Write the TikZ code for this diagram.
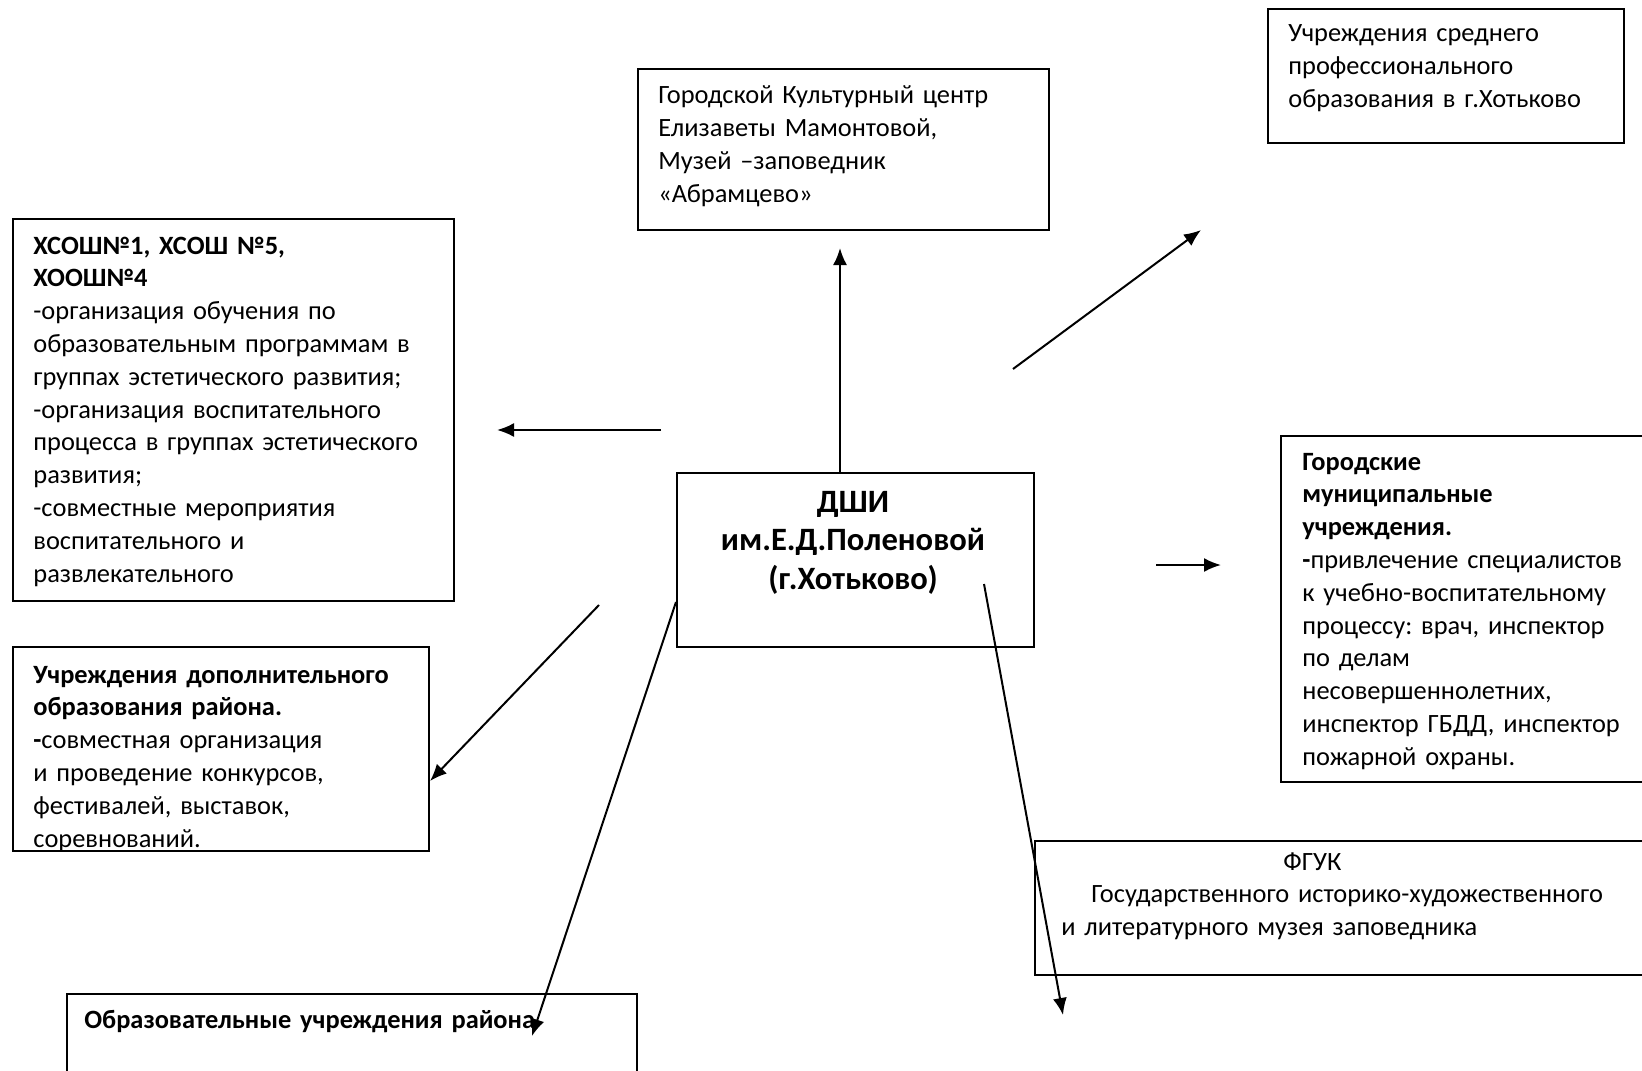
\documentclass[tikz,border=0pt]{standalone}
\usepackage{fontspec}
\setmainfont{Carlito}
\usetikzlibrary{arrows.meta}
\frenchspacing
\begin{document}
\begin{tikzpicture}[x=0.5pt,y=-0.5pt,
  box/.style={draw, line width=1pt, anchor=north west, inner sep=0pt},
  txt/.style={anchor=base west, inner sep=0pt, align=left, text width=330pt,
    font=\fontsize{13.2}{16.4}\selectfont\frenchspacing},
  ctrtxt/.style={anchor=base, inner sep=0pt, align=center, text width=175pt,
    font=\fontsize{16.3}{19.4}\selectfont\bfseries},
  arr/.style={line width=1pt, -{Latex[length=8.5pt,width=7pt]}}]
\clip (0,0) rectangle (1642,1070);
\fill[white] (0,0) rectangle (1642,1070);

% boxes
\node[box, minimum width=220.5pt, minimum height=191pt] (b1) at (12,218) {};
\node[box, minimum width=208pt, minimum height=102pt] (b2) at (12,646) {};
\node[box, minimum width=205.5pt, minimum height=80.5pt] (b3) at (637,68) {};
\node[box, minimum width=178pt, minimum height=67pt] (b4) at (1267,8) {};
\node[box, minimum width=178.5pt, minimum height=87pt] (bc) at (676,472) {};
\node[box, minimum width=200pt, minimum height=173pt] (b5) at (1280,435) {};
\node[box, minimum width=320pt, minimum height=67pt] (b6) at (1034,840) {};
\node[box, minimum width=285pt, minimum height=60pt] (b7) at (66,993) {};

% texts
\node[txt] (t1) at (33,254) {\textbf{ХСОШ№1, ХСОШ №5,}\\\textbf{ХООШ№4}\\-организация обучения по\\образовательным программам в\\группах эстетического развития;\\-организация воспитательного\\процесса в группах эстетического\\развития;\\-совместные мероприятия\\воспитательного и\\развлекательного};
\node[txt] (t2) at (33,683) {\textbf{Учреждения дополнительного}\\\textbf{образования района.}\\\textbf{-}совместная организация\\и проведение конкурсов,\\фестивалей, выставок,\\соревнований.};
\node[txt] (t3) at (658,104) {Городской Культурный центр\\Елизаветы Мамонтовой,\\Музей –заповедник\\«Абрамцево»};
\node[txt] (t4) at (1288,42) {Учреждения среднего\\профессионального\\образования в г.Хотьково};
\node[ctrtxt] (tc) at (853,512) {ДШИ\\им.Е.Д.Поленовой\\(г.Хотьково)};
\node[txt] (t5) at (1302,470) {\textbf{Городские}\\\textbf{муниципальные}\\\textbf{учреждения.}\\\textbf{-}привлечение специалистов\\к учебно-воспитательному\\процессу: врач, инспектор\\по делам\\несовершеннолетних,\\инспектор ГБДД, инспектор\\пожарной охраны.};
\node[txt] (t6) at (1061,870) {\hspace*{111pt}ФГУК\\\hspace*{15pt}Государственного историко-художественного\\и литературного музея заповедника};
\node[txt] (t7) at (84,1028) {\textbf{Образовательные учреждения района}};

% arrow end points
\coordinate (a1s) at (840,472);  \coordinate (a1e) at (840,248);
\coordinate (a2s) at (661,430);  \coordinate (a2e) at (497,430);
\coordinate (a3s) at (1013,369); \coordinate (a3e) at (1201,230);
\coordinate (a4s) at (1156,565); \coordinate (a4e) at (1221,565);
\coordinate (a5s) at (599,605);  \coordinate (a5e) at (430,781);
\coordinate (a6s) at (676,602);  \coordinate (a6e) at (532,1036);
\coordinate (a7s) at (984,584);  \coordinate (a7e) at (1063,1015);

\draw[arr] (a1s) -- (a1e);
\draw[arr] (a2s) -- (a2e);
\draw[arr] (a3s) -- (a3e);
\draw[arr] (a4s) -- (a4e);
\draw[arr] (a5s) -- (a5e);
\draw[arr] (a6s) -- (a6e);
\draw[arr] (a7s) -- (a7e);
\end{tikzpicture}
\end{document}
